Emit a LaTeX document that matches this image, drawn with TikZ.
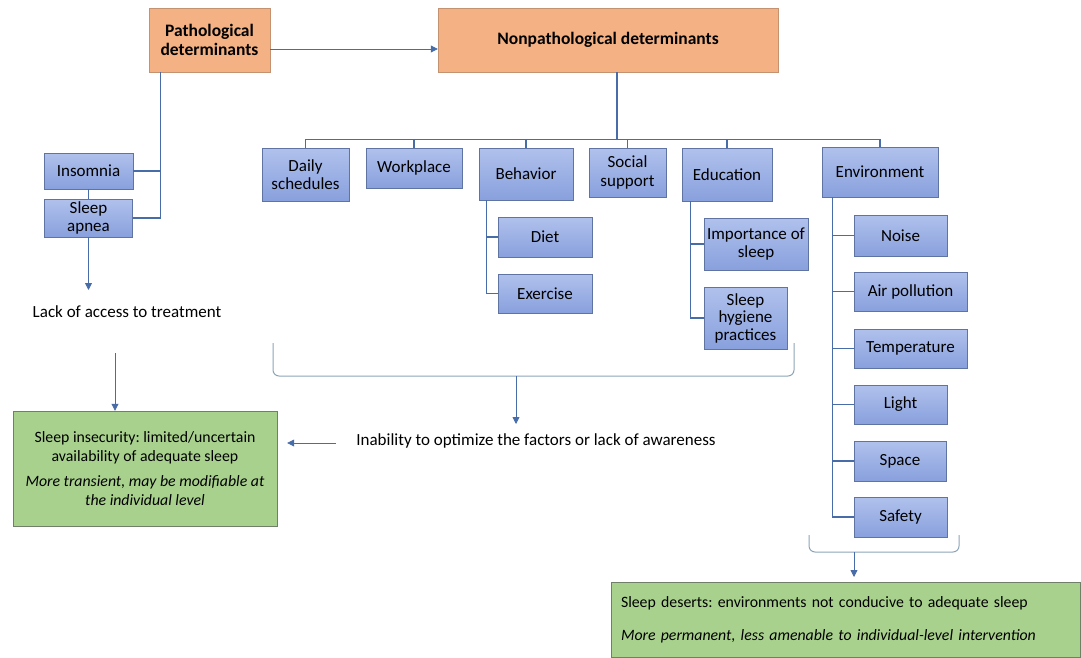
\documentclass[tikz,border=0pt]{standalone}
\usepackage{fontspec}
\setmainfont{Carlito}
\usepackage{tikz}
\usetikzlibrary{arrows.meta,calc}
\definecolor{detorange}{RGB}{244,177,131}
\definecolor{detedge}{RGB}{196,146,112}
\definecolor{boxtop}{RGB}{176,193,236}
\definecolor{boxbottom}{RGB}{136,160,221}
\definecolor{boxedge}{RGB}{96,116,164}
\definecolor{outgreen}{RGB}{169,209,142}
\definecolor{greenedge}{RGB}{112,128,104}
\definecolor{linkblue}{RGB}{72,108,168}
\definecolor{bracegray}{RGB}{140,164,184}
\frenchspacing
\begin{document}
\begin{tikzpicture}[x=1pt,y=-1pt,
 font=\fontsize{17}{19.5}\selectfont,
 det/.style={draw=detedge,fill=detorange,align=center,font=\fontsize{17.5}{19.5}\selectfont\bfseries,inner sep=0pt},
 fac/.style={draw=boxedge,top color=boxtop,bottom color=boxbottom,align=center,inner sep=0pt},
 outc/.style={draw=greenedge,fill=outgreen,inner sep=0pt,font=\fontsize{15.8}{19}\selectfont},
 line/.style={draw=linkblue,line width=1.1pt},
 arr/.style={draw=linkblue,line width=0.8pt,-{Triangle[length=7pt,width=7pt]}},
 brace/.style={draw=bracegray,line width=1pt,rounded corners=6pt}
]
\useasboundingbox (0,0) rectangle (1081,658);
% top level
\node[det,minimum width=121,minimum height=64] (patho) at (209.5,40) {Pathological\\determinants};
\node[det,minimum width=340,minimum height=64] (nonpatho) at (608,40) {Nonpathological determinants};
\draw[arr] ([yshift=-9pt]patho.east) -- ([yshift=-9pt]nonpatho.west);

% pathological branch
\node[fac,minimum width=89,minimum height=36] (insomnia) at (88.5,171) {Insomnia};
\node[fac,minimum width=88,minimum height=38] (apnea) at (88.5,218) {Sleep\\[-2pt]apnea};
\draw[line] ([xshift=12pt]patho.south west) |- (insomnia.east);
\draw[line] ([xshift=12pt]patho.south west) |- (apnea.east);
\draw[line] (insomnia) -- (apnea);
\coordinate (apneatip) at (88.5,290);
\draw[arr] (apnea.south) -- (apneatip);
\node (access) at (127,312) {Lack of access to treatment};

% sleep insecurity
\node[outc,minimum width=264,minimum height=115,align=center] (insecure) at (145,468.5)
 {Sleep insecurity: limited/uncertain\\availability of adequate sleep\\[6pt]
 \itshape More transient, may be modifiable at\\\itshape the individual level};
\coordinate (accessout) at (115,353);
\draw[arr] (accessout) -- (accessout |- insecure.north);

% nonpathological factors
\node[fac,minimum width=87,minimum height=53] (daily) at (305.5,174.5) {Daily\\[-1pt]schedules};
\node[fac,minimum width=96,minimum height=40] (workplace) at (414,168) {Workplace};
\node[fac,minimum width=94,minimum height=52] (behavior) at (526,174) {Behavior};
\node[fac,minimum width=77,minimum height=49] (social) at (627.5,172.5) {Social\\[-1pt]support};
\node[fac,minimum width=90,minimum height=53] (education) at (727,174.5) {Education};
\node[fac,minimum width=116,minimum height=50] (environment) at (880,172) {Environment};
\draw[line] ([xshift=9pt]nonpatho.south) -- ++(0,67) coordinate (bus);
\draw[line] (daily.north |- bus) -- (environment.north |- bus);
\foreach \f in {daily,workplace,behavior,social,education,environment}
 \draw[line] (\f.north |- bus) -- (\f.north);

% behavior
\node[fac,minimum width=94,minimum height=40] (diet) at (545,237) {Diet};
\node[fac,minimum width=94,minimum height=39] (exercise) at (545,293.5) {Exercise};
\draw[line] ([xshift=8pt]behavior.south west) |- (diet.west);
\draw[line] ([xshift=8pt]behavior.south west) |- (exercise.west);

% education
\node[fac,minimum width=104,minimum height=52] (importance) at (756,244) {Importance of\\[-1pt]sleep};
\node[fac,minimum width=83,minimum height=62] (hygiene) at (745.5,318) {Sleep\\[-2pt]hygiene\\[-2pt]practices};
\draw[line] ([xshift=9pt]education.south west) |- (importance.west);
\draw[line] ([xshift=9pt]education.south west) |- (hygiene.west);

% environment
\node[fac,minimum width=93,minimum height=41] (noise) at (900.5,235.5) {Noise};
\node[fac,minimum width=113,minimum height=39] (air) at (910.5,291.5) {Air pollution};
\node[fac,minimum width=113,minimum height=39] (temperature) at (910.5,348.5) {Temperature};
\node[fac,minimum width=93,minimum height=39] (light) at (900.5,404.5) {Light};
\node[fac,minimum width=92,minimum height=40] (space) at (900,461) {Space};
\node[fac,minimum width=93,minimum height=40] (safety) at (900.5,517) {Safety};
\foreach \f in {noise,air,temperature,light,space,safety}
 \draw[line] ([xshift=11pt]environment.south west) |- (\f.west);

% middle bracket
\coordinate (bl) at (273,343);
\coordinate (br) at (794,343);
\draw[brace] (bl) -- (bl |- 0,376) -- (br |- 0,376) -- (br);
\coordinate (bmid) at (516,376);
\node (inability) at (536,441) {Inability to optimize the factors or lack of awareness};
\draw[arr] (bmid) -- (bmid |- 0,424);
\draw[arr] ([xshift=-17pt,yshift=-2pt]inability.west) -- ([xshift=10pt,yshift=25.5pt]insecure.east);

% sleep deserts
\node[outc,minimum width=469,minimum height=75,align=left,text width=449,inner xsep=10pt] (deserts) at (845.5,619.5)
 {Sleep deserts: environments not conducive to adequate sleep\\[14pt]
 \itshape More permanent, less amenable to individual-level intervention};
\coordinate (el) at (809,535);
\coordinate (er) at (959,535);
\draw[brace] (el) -- (el |- 0,552) -- (er |- 0,552) -- (er);
\coordinate (emid) at (854,552);
\draw[arr] (emid) -- (emid |- 0,577);
\end{tikzpicture}
\end{document}
